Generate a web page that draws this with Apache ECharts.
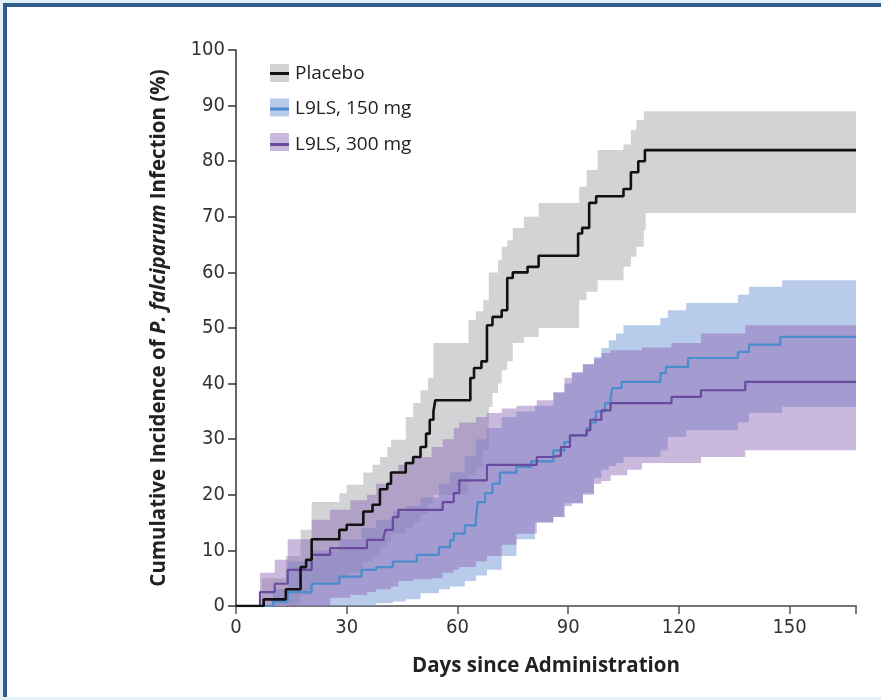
<!DOCTYPE html>
<html>
<head>
<meta charset="utf-8">
<script src="https://cdn.jsdelivr.net/npm/echarts@6/dist/echarts.min.js"></script>
<style>
  html, body { margin: 0; padding: 0; background: #e4f1f8; }
  #frame { position: absolute; left: 3px; top: 3px; width: 880px; height: 690px;
           border-top: 4px solid #2f5d8c; border-left: 4px solid #2f5d8c; background: #fff; }
  #main { position: absolute; left: 0; top: 0; width: 881px; height: 700px; }
</style>
</head>
<body>
<div id="frame"></div>
<div id="main"></div>
<script>
// days since administration / cumulative incidence (%) - step points
var placeboDays = [0, 7.5, 13.5, 17.5, 19, 20.5, 28, 30, 34.5, 37, 39, 41, 42, 46, 48, 50, 51.5, 52.5, 53.5, 54,
    63.5, 64.5, 66.5, 68, 69.5, 72, 73.5, 75, 79, 82, 92.7, 93.8, 95.7, 97.6, 105, 107, 109, 110.8, 168];
var placeboPct = [0, 1.2, 3, 7, 8.3, 12, 13.7, 14.6, 17, 18.2, 21, 22, 24, 25.7, 26.8, 28.6, 31, 33.5, 35, 37,
    41, 42.8, 44, 50.5, 52, 53.2, 59, 60, 61, 63, 67, 68, 72.5, 73.7, 75, 78, 80, 82, 82];

var dose150Days = [0, 10, 14, 20.5, 28, 34, 38, 42.5, 49, 55, 58, 59, 62, 65, 65.5, 67.5, 69.5, 71.5, 76, 80, 86,
    89, 90.5, 95, 96, 97.5, 100, 101.5, 102, 104.5, 115, 116.5, 122.5, 136, 139, 147.5, 168];
var dose150Pct = [0, 0.8, 2.5, 4, 5.3, 6.5, 7, 8, 9.2, 10.6, 11.8, 13, 14.5, 15.5, 18.7, 20.3, 22, 24, 25, 26, 28,
    29.5, 30.7, 32, 33, 35, 36.5, 37.6, 39.2, 40.3, 41.9, 43, 44.6, 45.7, 47, 48.4, 48.4];

var dose300Days = [0, 6.5, 10.5, 14, 20.5, 25.5, 35.5, 40, 40.5, 42.5, 44, 56, 59, 60.5, 68, 81.5, 85, 88, 90.5,
    95, 96, 99, 101.5, 118, 126, 138, 168];
var dose300Pct = [0, 2.5, 4, 6.5, 9.2, 10.4, 11.9, 12.4, 13.7, 16, 17.3, 18.7, 20.3, 22.6, 25.4, 26.8, 27, 28.6, 30.7,
    31.6, 33.5, 35.2, 36.5, 37.6, 38.8, 40.3, 40.3];

// 95% confidence bands: [day, lower, upper]
var placeboBand = [
    [7, 0, 5], [13.5, 0.3, 9], [17.5, 2, 13.7], [20.5, 4, 18.7], [28, 5, 20.3], [30, 6, 21.8], [34.5, 8, 24],
    [37, 9, 25.4], [39, 10.5, 26.8], [41, 11.5, 28.6], [42, 13, 29.9], [46, 14, 34], [48, 15, 36.5],
    [50, 16.5, 38.8], [52, 18.5, 41], [53.5, 20, 47.3], [63, 23.5, 51.4], [65, 25, 53], [67, 28, 55],
    [68.5, 35.8, 60], [69.5, 38.3, 60], [71, 40, 62.2], [72, 42.4, 64.6], [73.5, 44, 65.8], [75, 47.3, 68],
    [78, 48.4, 70], [82, 50, 72.5], [93, 55, 75.4], [95, 56.5, 78.4], [98, 58.6, 82], [105, 61, 83],
    [107, 62.8, 85.6], [108.5, 64.6, 87.4], [110.5, 67.6, 89], [111, 70.7, 89], [168, 70.7, 89]
];
var dose150Band = [
    [10, 0, 3], [14, 0, 8], [20.5, 0, 10], [28, 0, 12], [34, 0, 14], [38, 0.5, 15.5], [42.5, 0.8, 17],
    [46, 1.2, 18], [50, 2.3, 19.5], [55, 3, 22], [58, 3.5, 24], [62, 4.5, 27], [65, 5.5, 30], [68, 6.5, 32],
    [72, 9, 34], [76, 12, 35], [81, 15, 36], [86, 16, 38.3], [89, 18.5, 40], [91, 18.5, 42], [94, 20.3, 43.5],
    [97, 23, 44.8], [99, 24.5, 46.4], [101, 25.2, 47.8], [103, 25.7, 49], [105, 26.8, 50.5], [115, 28, 51.8],
    [117, 30.4, 53.2], [122, 31.6, 54.5], [136, 33, 56], [139, 34.7, 57.4], [148, 35.8, 58.6], [168, 35.8, 58.6]
];
var dose300Band = [
    [6.5, 0, 6], [10.5, 0, 8.3], [14, 0, 12], [20.5, 0, 15.5], [25.5, 1.5, 17.3], [31, 2, 19], [35.5, 2.5, 20],
    [38, 3, 22], [42, 3.5, 24], [44, 4.5, 25.4], [48, 4.8, 26.8], [53, 5, 28.6], [56, 6, 30], [59, 6.5, 32],
    [60.5, 7, 33], [65, 8, 34], [68, 9, 34.7], [72, 11, 35.5], [76, 13, 36], [81.5, 15, 37], [86, 16, 38.5],
    [89, 18, 41], [91, 18.5, 42], [94, 20, 43.5], [97, 22, 44.5], [99, 22.5, 45.5], [101.5, 23.5, 46],
    [106, 24.5, 46], [110, 25.7, 46.5], [118, 25.7, 47.3], [126, 26.8, 49], [138, 28, 50.5], [168, 28, 50.5]
];

var xTicks = [0, 30, 60, 90, 120, 150];
var groups = ['Placebo', 'L9LS, 150 mg', 'L9LS, 300 mg'];

var lineColors = ['#111111', '#4a8ccc', '#6a4a9e'];
var bandColors = ['#d2d3d5', 'rgba(120,155,215,0.52)', 'rgba(140,100,180,0.45)'];

function pairs(xs, ys) {
    return xs.map(function (x, i) { return [x, ys[i]]; });
}

// whole band drawn as one stepped polygon: upper edge forward, lower edge back
function bandRenderer(band, color) {
    return function (params, api) {
        if (params.dataIndex !== 0) return null;
        var pts = [];
        var i;
        for (i = 0; i < band.length; i++) {
            pts.push(api.coord([band[i][0], band[i][2]]));
            if (i < band.length - 1) {
                pts.push(api.coord([band[i + 1][0], band[i][2]]));
            }
        }
        for (i = band.length - 1; i >= 0; i--) {
            if (i < band.length - 1) {
                pts.push(api.coord([band[i + 1][0], band[i][1]]));
            }
            pts.push(api.coord([band[i][0], band[i][1]]));
        }
        return {
            type: 'polygon',
            shape: { points: pts },
            style: { fill: color, stroke: null }
        };
    };
}

var chart = echarts.init(document.getElementById('main'));

var series = [];
var bands = [placeboBand, dose150Band, dose300Band];
bands.forEach(function (band, k) {
    series.push({
        name: groups[k] + ' CI',
        type: 'custom',
        silent: true,
        itemStyle: { color: bandColors[k] },
        renderItem: bandRenderer(band, bandColors[k]),
        encode: { x: 0, y: [1, 2] },
        data: band,
        clip: true,
        z: 1
    });
});
var lines = [pairs(placeboDays, placeboPct), pairs(dose150Days, dose150Pct), pairs(dose300Days, dose300Pct)];
[1, 2, 0].forEach(function (k) {
    series.push({
        name: groups[k],
        type: 'line', step: 'end', symbol: 'none',
        itemStyle: { color: lineColors[k] },
        lineStyle: { color: lineColors[k], width: k === 0 ? 2.6 : 2.2 },
        data: lines[k],
        z: 3
    });
});

var tickFont = '"DejaVu Sans Condensed", "Liberation Sans", sans-serif';

var option = {
    animation: false,
    grid: { left: 236, right: 25, top: 50, bottom: 94 },
    legend: [
        {
            data: groups.map(function (g) { return g + ' CI'; }),
            orient: 'vertical', left: 265, top: 59,
            icon: 'rect', itemWidth: 19, itemHeight: 18, itemGap: 16.5,
            formatter: function () { return ''; },
            selectedMode: false, z: 1
        },
        {
            data: groups,
            orient: 'vertical', left: 265, top: 59,
            icon: 'rect', itemWidth: 19, itemHeight: 3, itemGap: 16.5,
            selectedMode: false, z: 2,
            textStyle: { fontFamily: 'Open Sans', fontSize: 19, color: '#222', lineHeight: 18, padding: [0, 0, 0, 1] }
        }
    ],
    xAxis: {
        type: 'value', min: 0, max: 168, interval: 30,
        name: 'Days since Administration', nameLocation: 'middle', nameGap: 50,
        nameTextStyle: { fontFamily: 'Open Sans', fontWeight: 'bold', fontSize: 20.5, color: '#222' },
        axisLine: { lineStyle: { color: '#777', width: 2 } },
        axisTick: { length: 8, lineStyle: { color: '#555', width: 1.5 } },
        axisLabel: {
            margin: 12, fontFamily: tickFont, fontSize: 20, color: '#333',
            formatter: function (v) { return xTicks.indexOf(v) >= 0 ? String(v) : ''; }
        },
        splitLine: { show: false }
    },
    yAxis: {
        type: 'value', min: 0, max: 100, interval: 10,
        name: '{a|Cumulative Incidence of }{b|P. falciparum}{a| Infection (%)}',
        nameLocation: 'middle', nameGap: 66, nameRotate: 90,
        nameTextStyle: {
            rich: {
                a: { fontFamily: 'Open Sans', fontWeight: 'bold', fontSize: 20.5, color: '#222' },
                b: { fontFamily: 'Open Sans', fontWeight: 'bold', fontStyle: 'italic', fontSize: 20.5, color: '#222' }
            }
        },
        axisLine: { show: true, lineStyle: { color: '#333', width: 1.5 } },
        axisTick: { show: true, length: 8, lineStyle: { color: '#333', width: 1.5 } },
        axisLabel: { margin: 11, fontFamily: tickFont, fontSize: 20, color: '#333' },
        splitLine: { show: false }
    },
    series: series
};
chart.setOption(option);
</script>
</body>
</html>
